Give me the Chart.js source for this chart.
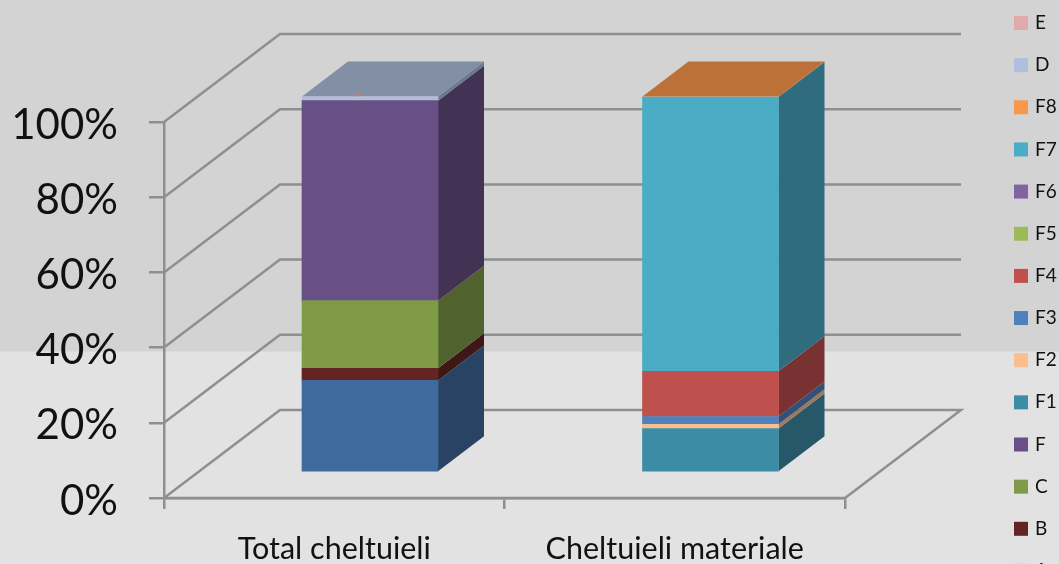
<!DOCTYPE html>
<html lang="ro">
<head>
    <meta charset="UTF-8">
    <title>Structura cheltuielilor</title>
    <script src="https://cdn.jsdelivr.net/npm/chart.js"></script>
    <style>
        html, body { margin: 0; padding: 0; overflow: hidden; }
        body { background: linear-gradient(#d3d3d3 0, #d3d3d3 351px, #e2e2e2 352px, #e2e2e2 100%); }
        #wrap { width: 1059px; height: 564px; position: relative; }
    </style>
</head>
<body>
    <div id="wrap"><canvas id="chart"></canvas></div>

    <script>
        var categories = ["Total cheltuieli", "Cheltuieli materiale"];
        var yTicks = [0, 20, 40, 60, 80, 100];

        // series in stacking order, bottom to top
        var seriesNames = ["A", "B", "C", "F", "F1", "F2", "F3", "F4", "F5", "F6", "F7", "F8", "D", "E"];
        var A = [24.5, null];
        var B = [3.2, null];
        var C = [18.0, null];
        var F = [53.2, null];
        var F1 = [null, 11.7];
        var F2 = [null, 1.1];
        var F3 = [null, 2.1];
        var F4 = [null, 12.0];
        var F5 = [null, null];
        var F6 = [null, null];
        var F7 = [null, 73.0];
        var F8 = [null, 0.1];
        var D = [1.1, null];
        var E = [null, null];
        var seriesValues = [A, B, C, F, F1, F2, F3, F4, F5, F6, F7, F8, D, E];
        var seriesColors = ["#3f6a9e", "#632423", "#7f9b47", "#684f86", "#3c8ca6", "#fbbe8e", "#4f81bd",
            "#c0504d", "#9bbb59", "#8064a2", "#4bacc6", "#f9974a", "#aebedc", "#e0a9ab"];

        // the bars stand further back than the axis plane
        var barDx = 35.75, barDy = -25.5;
        var depthX = 46, depthY = -35;
        var wallDx = 116, wallDy = -88;
        var gridColor = "#8f8f8f";
        var gridWidth = 2.5;

        function shade(hex, k) {
            var n = parseInt(hex.slice(1), 16);
            return "rgb(" + Math.round((n >> 16) * k) + "," + Math.round(((n >> 8) & 255) * k) + "," + Math.round((n & 255) * k) + ")";
        }

        function poly(ctx, pts, color) {
            ctx.fillStyle = color;
            ctx.beginPath();
            ctx.moveTo(pts[0][0], pts[0][1]);
            for (var i = 1; i < pts.length; i++) ctx.lineTo(pts[i][0], pts[i][1]);
            ctx.closePath();
            ctx.fill();
        }

        // side walls, back wall and floor lines
        var wallsPlugin = {
            id: "walls",
            beforeDatasetsDraw: function (chart) {
                var ctx = chart.ctx, area = chart.chartArea, y = chart.scales.y;
                ctx.save();
                ctx.strokeStyle = gridColor;
                ctx.lineWidth = gridWidth;
                yTicks.forEach(function (t) {
                    var py = y.getPixelForValue(t);
                    ctx.beginPath();
                    ctx.moveTo(area.left, py);
                    ctx.lineTo(area.left + wallDx, py + wallDy);
                    ctx.lineTo(area.right + wallDx, py + wallDy);
                    if (t === 0) {
                        ctx.lineTo(area.right, py);
                        ctx.lineTo(area.left, py);
                    }
                    ctx.stroke();
                });
                ctx.restore();
            }
        };

        // front faces come from the library, this adds side and top faces
        var box3dPlugin = {
            id: "box3d",
            beforeDatasetsDraw: function (chart) {
                var ctx = chart.ctx;
                ctx.save();
                ctx.translate(barDx, barDy);
                categories.forEach(function (c, i) {
                    var last = null;
                    seriesValues.forEach(function (vals, s) {
                        if (!vals[i]) return;
                        var bar = chart.getDatasetMeta(s).data[i];
                        var r = bar.x + bar.width / 2;
                        poly(ctx, [[r, bar.y], [r + depthX, bar.y + depthY], [r + depthX, bar.base + depthY], [r, bar.base]], shade(seriesColors[s], 0.63));
                        last = s;
                    });
                    var top = chart.getDatasetMeta(last).data[i];
                    var l = top.x - top.width / 2, rr = top.x + top.width / 2;
                    poly(ctx, [[l, top.y], [l + depthX, top.y + depthY], [rr + depthX, top.y + depthY], [rr, top.y]], shade(seriesColors[last], 0.75));
                    // small orange speck on the first bar's top, where F8 peeks through
                    if (i === 0) {
                        ctx.fillStyle = "rgba(222,120,80,0.8)";
                        ctx.beginPath();
                        ctx.ellipse(top.x - 12, top.y - 1.2, 5, 1.1, 0, 0, Math.PI * 2);
                        ctx.fill();
                    }
                });
            },
            afterDatasetsDraw: function (chart) {
                chart.ctx.restore();
            }
        };

        // legend runs off the bottom of the picture so it can't use the built-in layout
        var legendPlugin = {
            id: "sideLegend",
            afterDraw: function (chart) {
                var ctx = chart.ctx;
                ctx.save();
                ctx.font = "19px Lato";
                ctx.textBaseline = "middle";
                ctx.textAlign = "left";
                for (var s = seriesNames.length - 1, row = 0; s >= 0; s--, row++) {
                    var cy = 23 + row * 42.15;
                    ctx.fillStyle = seriesColors[s];
                    ctx.fillRect(1014, cy - 7, 14, 14);
                    ctx.fillStyle = "#111";
                    ctx.fillText(seriesNames[s], 1035, cy);
                }
                ctx.restore();
            }
        };

        new Chart(document.getElementById("chart"), {
            type: "bar",
            data: {
                labels: categories,
                datasets: seriesNames.map(function (name, s) {
                    return { label: name, data: seriesValues[s], backgroundColor: seriesColors[s], barThickness: 136, borderWidth: 0 };
                })
            },
            options: {
                animation: false,
                responsive: true,
                maintainAspectRatio: false,
                layout: { padding: { left: 0, top: 122, right: 214, bottom: 0 } },
                plugins: { legend: { display: false }, tooltip: { enabled: false } },
                scales: {
                    x: {
                        stacked: true,
                        afterFit: function (s) { s.height = 66; },
                        border: { color: gridColor, width: gridWidth },
                        grid: { color: gridColor, lineWidth: gridWidth, tickLength: 11, drawOnChartArea: false, offset: true },
                        ticks: { font: { family: "Lato", size: 30.5 }, color: "#111", padding: 22, maxRotation: 0 }
                    },
                    y: {
                        stacked: true,
                        min: 0,
                        max: 100,
                        afterFit: function (s) { s.width = 164; },
                        border: { color: gridColor, width: gridWidth },
                        grid: { color: gridColor, lineWidth: gridWidth, tickLength: 15, drawOnChartArea: false },
                        ticks: {
                            stepSize: 20,
                            font: { family: "Lato", size: 42 },
                            color: "#111",
                            padding: 31,
                            labelOffset: 3,
                            callback: function (v) { return v + "%"; }
                        }
                    }
                }
            },
            plugins: [wallsPlugin, box3dPlugin, legendPlugin]
        });
    </script>
</body>
</html>
